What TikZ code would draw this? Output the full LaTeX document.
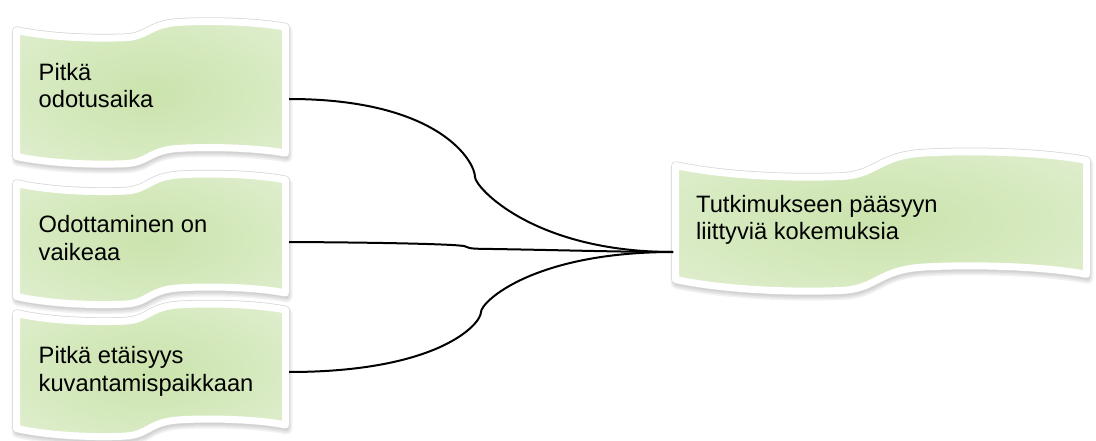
\documentclass[tikz,border=0pt]{standalone}
\usepackage{fontspec}
\setmainfont{Liberation Sans}
\definecolor{wcenter}{RGB}{203,227,172}
\definecolor{wmid}{RGB}{215,234,193}
\definecolor{wedge}{RGB}{235,243,226}
\definecolor{rimline}{RGB}{214,214,214}
\pgfdeclareradialshading{wavefill}{\pgfpoint{0bp}{0bp}}%
  {color(0bp)=(wcenter); color(22bp)=(wmid); color(50bp)=(wedge)}

% outline of a wave-shaped banner in unit width; \whgt = height, \wamp = wave amplitude
\newcommand\wavecurve{%
  (0,0) .. controls (0.12,8*\wamp) and (0.28,10*\wamp) .. (0.40,8.5*\wamp)
  .. controls (0.49,7.5*\wamp) and (0.49,-7*\wamp) .. (0.60,-9.5*\wamp)
  .. controls (0.70,-11.5*\wamp) and (0.88,-11*\wamp) .. (1,-4*\wamp)
  -- (1,\whgt-4*\wamp)
  .. controls (0.88,\whgt-11*\wamp) and (0.70,\whgt-11.5*\wamp) .. (0.60,\whgt-9.5*\wamp)
  .. controls (0.49,\whgt-7*\wamp) and (0.49,\whgt+7.5*\wamp) .. (0.40,\whgt+8.5*\wamp)
  .. controls (0.28,\whgt+10*\wamp) and (0.12,\whgt+8*\wamp) .. (0,\whgt) -- cycle}

% #1 left, #2 top, #3 width, #4 height, #5 amplitude
\newcommand\wavebox[5]{%
  \begin{scope}[shift={(#1,#2)}, x=#3pt]
    \def\whgt{#4}\def\wamp{#5}
    \fill[black, opacity=0.12, xshift=1pt, yshift=-3.5pt] \wavecurve;
    \foreach \w in {12,9,6,3}
      \draw[black, opacity=0.05, line width=\w pt, line join=round,
            xshift=1pt, yshift=-3.5pt] \wavecurve;
    \draw[rimline, line width=8.5pt, line join=round] \wavecurve;
    \shade[shading=wavefill] \wavecurve;
    \draw[white, line width=7pt, line join=round] \wavecurve;
  \end{scope}}

\tikzset{
  lbl/.style={align=left, inner sep=0pt, anchor=base west,
              font=\fontsize{23.7}{27.5}\selectfont},
  link/.style={draw=black, line width=2pt}
}

\begin{document}
\begin{tikzpicture}[x=1pt, y=-1pt]
  \useasboundingbox (0,0) rectangle (1096,441);

  % banners
  \wavebox{16.5}{30.5}{269}{126}{0.85}
  \wavebox{16.5}{183.5}{269}{113}{0.9}
  \wavebox{16.5}{313.5}{269}{115}{0.9}
  \wavebox{675.5}{165.5}{411}{114}{1.3}

  % labels (anchored at the baseline of the last line)
  \node[lbl] (t1) at (38.5,108) {Pitkä\\odotusaika};
  \node[lbl] (t2) at (38.5,260) {Odottaminen on\\vaikeaa};
  \node[lbl] (t3) at (38.5,391) {Pitkä etäisyys\\kuvantamispaikkaan};
  \node[lbl] (t4) at (696,240) {Tutkimukseen pääsyyn\\liittyviä kokemuksia};

  % connector end points on the banner edges
  \coordinate (o1) at (289,99);
  \coordinate (o2) at (289,242);
  \coordinate (o3) at (289,372);
  \coordinate (target) at (673,252);

  % connectors
  \draw[link] (o1) .. controls (440,99) and (475,162) .. (475,177)
    .. controls (475,187) and (533,252) .. (target);
  \draw[link] (o2) .. controls (380,242.5) and (450,244) .. (464,246)
    .. controls (468,248) and (470,248.6) .. (480,248.8)
    .. controls (560,250) and (620,252) .. (target);
  \draw[link] (o3) .. controls (439,372) and (481,324) .. (481,312)
    .. controls (481,302) and (533,252) .. (target);
\end{tikzpicture}
\end{document}
